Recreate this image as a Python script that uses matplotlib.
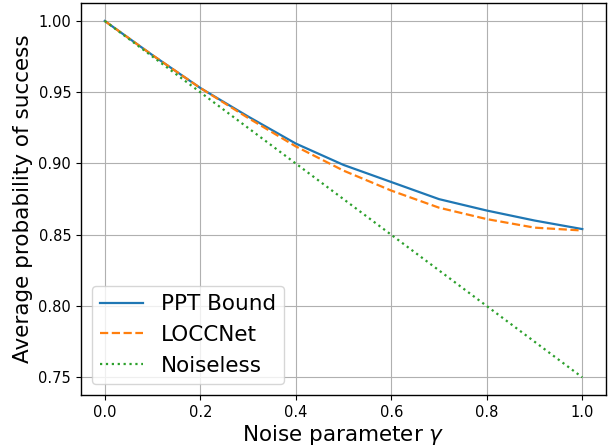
import numpy as np
import matplotlib.pyplot as plt

# noise parameter values
gamma = [0.0, 0.1, 0.2, 0.3, 0.4, 0.5, 0.6, 0.7, 0.8, 0.9, 1.0]

# curves
ppt_bound = [1.000, 0.976, 0.953, 0.933, 0.914, 0.899, 0.887, 0.875, 0.867, 0.860, 0.854]
loccnet = [1.000, 0.976, 0.953, 0.932, 0.912, 0.895, 0.881, 0.869, 0.861, 0.855, 0.853]
noiseless = [1.000, 0.975, 0.950, 0.925, 0.900, 0.875, 0.850, 0.825, 0.800, 0.775, 0.750]

fig = plt.figure(figsize=(6.08, 4.46), dpi=100)
ax = fig.add_axes([0.133, 0.114, 0.864, 0.879])

ax.plot(gamma, ppt_bound, '-', color='#1f77b4', lw=1.6, label='PPT Bound')
ax.plot(gamma, loccnet, '--', color='#ff7f0e', lw=1.6, label='LOCCNet')
ax.plot(gamma, noiseless, ':', color='#2ca02c', lw=1.6, label='Noiseless')

ax.set_xlabel(r'Noise parameter $\gamma$', fontsize=15.5, labelpad=2.5)
ax.set_ylabel('Average probability of success', fontsize=15.5)
ax.set_yticks([0.75, 0.80, 0.85, 0.90, 0.95, 1.00])
ax.tick_params(labelsize=10.5)
for s in ax.spines.values():
    s.set_linewidth(1.0)
ax.grid(True)
ax.legend(loc='lower left', fontsize=15.5)

plt.savefig('out.png', dpi=100)
